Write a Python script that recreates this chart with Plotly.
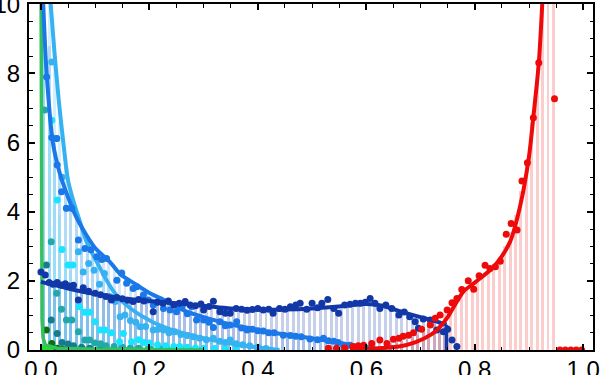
import plotly.graph_objects as go

# ---------------- data ----------------
BIN_W = 0.01

# histogram bar heights (bins of width 0.01, first bin starts at given value)
navy_bins_start = 0.0
navy_bars = [1.95, 1.9, 1.86, 1.82, 1.78, 1.74, 1.7, 1.66, 1.63, 1.6,
             1.58, 1.55, 1.52, 1.5, 1.48, 1.46, 1.44, 1.43, 1.42, 1.4,
             1.38, 1.37, 1.35, 1.34, 1.33, 1.32, 1.3, 1.29, 1.28, 1.27,
             1.25, 1.24, 1.22, 1.21, 1.2, 1.2, 1.19, 1.18, 1.18, 1.17,
             1.17, 1.16, 1.16, 1.17, 1.17, 1.16, 1.17, 1.18, 1.18, 1.19,
             1.2, 1.21, 1.22, 1.24, 1.25, 1.27, 1.28, 1.3, 1.31, 1.33,
             1.33, 1.32, 1.3, 1.27, 1.22, 1.17, 1.12, 1.07, 1.02, 0.97,
             0.93, 0.88, 0.84, 0.8, 0.76]

mid_bins_start = 0.0
mid_bars = [12, 8.8, 6.0, 5.1, 4.6, 4.2, 3.85, 3.55, 3.3, 3.05,
            2.85, 2.7, 2.55, 2.42, 2.3, 2.15, 2.02, 1.92, 1.8, 1.7,
            1.62, 1.55, 1.48, 1.4, 1.33, 1.26, 1.19, 1.13, 1.07, 1.02,
            0.97, 0.92, 0.87, 0.82, 0.78, 0.74, 0.71, 0.68, 0.65, 0.62,
            0.59, 0.56, 0.53, 0.51, 0.49, 0.46, 0.44, 0.41, 0.39, 0.37,
            0.35, 0.32, 0.3, 0.27, 0.24, 0.21, 0.18, 0.15, 0.12, 0.09,
            0.06, 0.03]

light_bins_start = 0.0
light_bars = [14, 11, 8.6, 6.6, 5.3, 4.6, 4.0, 3.55, 3.1, 2.75,
              2.45, 2.15, 1.9, 1.68, 1.5, 1.35, 1.22, 1.1, 0.99, 0.9,
              0.82, 0.75, 0.68, 0.62, 0.57, 0.52, 0.47, 0.43, 0.39, 0.35,
              0.32, 0.29, 0.26, 0.23, 0.2, 0.18, 0.16, 0.13, 0.11, 0.09,
              0.07, 0.05, 0.03, 0.02]

cyan_bins_start = 0.0
cyan_bars = [12, 7, 5.2, 3.9, 2.8, 2.3, 1.6, 1.2, 1.05, 0.85,
             0.7, 0.58, 0.5, 0.42, 0.34, 0.3, 0.25, 0.21, 0.18, 0.15,
             0.13, 0.11, 0.1, 0.08, 0.07, 0.06, 0.05, 0.04, 0.03, 0.02]

red_bins_start = 0.55
red_bars = [0.02, 0.03, 0.04, 0.05, 0.06, 0.08, 0.1, 0.12, 0.15, 0.18,
            0.22, 0.26, 0.31, 0.37, 0.44, 0.52, 0.62, 0.74, 0.88, 1.05,
            1.25, 1.45, 1.65, 1.8, 1.92, 2.05, 2.2, 2.35, 2.5, 2.7,
            3.0, 3.4, 3.9, 4.6, 5.5, 6.6, 8.2, 12, 12, 12]

# fitted curves
green_curve_x = [0.0, 0.0004, 0.0008, 0.0012, 0.0016, 0.002, 0.004, 0.008, 0.03, 0.1, 0.2, 0.3]
green_curve_y = [12, 9, 6, 3.5, 1.8, 0.9, 0.35, 0.15, 0.05, 0.02, 0.01, 0.0]

light_curve_x = [0.017, 0.025, 0.033, 0.042, 0.05, 0.06, 0.072, 0.085, 0.103, 0.12,
                 0.133, 0.15, 0.183, 0.232, 0.3, 0.386, 0.44]
light_curve_y = [10.2, 8.6, 7.2, 5.9, 4.9, 4.3, 3.71, 3.1, 2.55, 2.05,
                 1.72, 1.4, 1.01, 0.63, 0.34, 0.1, 0.0]

mid_curve_x = [0.0037, 0.0105, 0.022, 0.035, 0.047, 0.065, 0.084, 0.1, 0.127, 0.146,
               0.17, 0.2, 0.22, 0.269, 0.318, 0.354, 0.386, 0.416, 0.478, 0.539,
               0.589, 0.62]
mid_curve_y = [10.2, 8.0, 6.0, 5.1, 4.55, 3.85, 3.32, 2.95, 2.55, 2.2,
               1.95, 1.65, 1.5, 1.11, 0.87, 0.72, 0.63, 0.53, 0.39, 0.24,
               0.1, 0.02]

navy_curve_x = [0.0, 0.05, 0.1, 0.15, 0.2, 0.25, 0.3, 0.35, 0.4, 0.45,
                0.5, 0.55, 0.6, 0.63, 0.66, 0.7, 0.73, 0.748]
navy_curve_y = [1.97, 1.78, 1.62, 1.5, 1.42, 1.35, 1.28, 1.2, 1.17, 1.17,
                1.2, 1.26, 1.33, 1.28, 1.13, 0.95, 0.82, 0.73]

red_curve_x = [0.57, 0.6, 0.63, 0.66, 0.69, 0.72, 0.736, 0.75, 0.765, 0.779,
               0.8, 0.835, 0.865, 0.884, 0.9, 0.908, 0.918, 0.925]
red_curve_y = [0.0, 0.03, 0.06, 0.1, 0.22, 0.45, 0.67, 0.95, 1.35, 1.69,
               1.95, 2.41, 3.13, 4.19, 5.6, 6.74, 8.29, 10.2]

# data points
navy_pts_x = [0.0, 0.008, 0.015, 0.022, 0.03, 0.038, 0.045, 0.052, 0.06, 0.069,
              0.078, 0.088, 0.1, 0.11, 0.12, 0.13, 0.14, 0.15, 0.16, 0.17,
              0.18, 0.19, 0.207, 0.215, 0.225, 0.235, 0.245, 0.255, 0.266, 0.275,
              0.285, 0.295, 0.3, 0.31, 0.318, 0.33, 0.34, 0.349, 0.36, 0.37,
              0.38, 0.39, 0.4, 0.41, 0.42, 0.428, 0.44, 0.45, 0.46, 0.47,
              0.478, 0.49, 0.5, 0.51, 0.518, 0.529, 0.54, 0.549, 0.56, 0.57,
              0.58, 0.589, 0.598, 0.607, 0.616, 0.625, 0.636, 0.647, 0.66, 0.67,
              0.68, 0.69, 0.696, 0.705, 0.718, 0.73, 0.742, 0.75, 0.758, 0.767]
navy_pts_y = [2.26, 2.17, 1.95, 1.9, 1.95, 1.88, 1.92, 1.85, 1.87, 1.45,
              1.8, 1.7, 1.64, 1.6, 1.55, 1.45, 1.52, 1.48, 1.44, 1.4,
              1.46, 1.42, 1.11, 1.38, 1.35, 1.42, 1.3, 1.35, 1.4, 1.3,
              1.28, 1.33, 1.16, 1.26, 1.41, 1.11, 1.06, 1.06, 1.2, 1.18,
              1.15, 1.17, 1.2, 1.16, 1.18, 1.06, 1.2, 1.18, 1.25, 1.3,
              1.35, 1.18, 1.35, 1.22, 1.35, 1.46, 1.2, 1.06, 1.3, 1.32,
              1.35, 1.35, 1.38, 1.49, 1.35, 1.2, 1.3, 1.2, 1.01, 1.1,
              0.96, 0.82, 0.63, 0.9, 0.87, 0.58, 0.53, 0.6, 0.29, 0.1]

mid_pts_x = [0.0105, 0.02, 0.029, 0.03, 0.038, 0.047, 0.057, 0.069, 0.081, 0.092,
             0.103, 0.112, 0.121, 0.14, 0.149, 0.158, 0.17, 0.177, 0.189, 0.198,
             0.207, 0.216, 0.226, 0.238, 0.25, 0.26, 0.27, 0.278, 0.287, 0.3,
             0.31, 0.318, 0.33, 0.34, 0.349, 0.361, 0.37, 0.38, 0.39, 0.4,
             0.41, 0.42, 0.43, 0.447, 0.46, 0.47, 0.48, 0.496, 0.51, 0.521,
             0.53, 0.54, 0.548, 0.558, 0.57, 0.585, 0.6, 0.61]
mid_pts_y = [7.9, 6.15, 6.12, 5.35, 4.58, 4.1, 4.1, 3.18, 2.94, 2.9,
             2.7, 2.62, 2.65, 2.02, 2.23, 1.93, 1.78, 1.83, 1.59, 1.45,
             1.3, 1.4, 1.2, 1.16, 1.11, 1.25, 1.05, 1.25, 0.87, 0.87,
             0.8, 0.65, 0.82, 0.7, 0.72, 0.82, 0.64, 0.58, 0.6, 0.56,
             0.55, 0.5, 0.5, 0.43, 0.42, 0.4, 0.38, 0.32, 0.3, 0.34,
             0.27, 0.25, 0.22, 0.14, 0.14, 0.1, 0.06, 0.04]

light_pts_x = [0.02, 0.029, 0.039, 0.047, 0.057, 0.069, 0.078, 0.088, 0.098, 0.108,
               0.117, 0.127, 0.137, 0.146, 0.155, 0.165, 0.175, 0.183, 0.193, 0.207,
               0.216, 0.226, 0.236, 0.247, 0.258, 0.27, 0.281, 0.293, 0.305, 0.318,
               0.33, 0.34, 0.349, 0.36, 0.372, 0.385, 0.4, 0.415]
light_pts_y = [8.33, 6.12, 5.0, 4.1, 4.1, 2.84, 2.26, 2.5, 2.31, 1.9,
               2.21, 1.55, 1.4, 0.96, 1.01, 0.85, 0.8, 0.67, 0.68, 0.58,
               0.6, 0.58, 0.5, 0.53, 0.45, 0.42, 0.38, 0.34, 0.3, 0.34,
               0.25, 0.22, 0.29, 0.18, 0.15, 0.12, 0.08, 0.04]

cyan_pts_x = [0.02, 0.03, 0.039, 0.05, 0.059, 0.071, 0.081, 0.09, 0.1, 0.11,
              0.118, 0.13, 0.145, 0.152, 0.167, 0.18, 0.19, 0.2, 0.215, 0.23,
              0.245, 0.256, 0.27, 0.285, 0.3, 0.32, 0.34, 0.36]
cyan_pts_y = [6.65, 4.34, 2.91, 2.46, 2.46, 1.25, 1.09, 1.09, 0.82, 0.58,
              0.58, 0.5, 0.24, 0.48, 0.24, 0.3, 0.22, 0.2, 0.15, 0.12,
              0.1, 0.1, 0.08, 0.06, 0.05, 0.04, 0.03, 0.02]

teal_pts_x = [0.007, 0.019, 0.029, 0.038, 0.047, 0.057, 0.069, 0.081, 0.09, 0.1,
              0.11, 0.12, 0.135, 0.15, 0.165, 0.18, 0.2, 0.22]
teal_pts_y = [6.94, 3.13, 1.64, 1.18, 0.87, 0.87, 0.53, 0.29, 0.29, 0.2,
              0.18, 0.12, 0.1, 0.08, 0.06, 0.05, 0.04, 0.03]

dteal_pts_x = [0.01, 0.019, 0.03, 0.039, 0.05, 0.06, 0.075, 0.09, 0.11]
dteal_pts_y = [2.46, 0.87, 0.48, 0.22, 0.17, 0.12, 0.08, 0.05, 0.03]

dgreen_pts_x = [0.01, 0.02, 0.03, 0.04]
dgreen_pts_y = [0.58, 0.19, 0.05, 0.02]

green_pts_x = [0.005, 0.015, 0.025, 0.035, 0.045, 0.055, 0.065, 0.075, 0.085, 0.095,
               0.105, 0.115, 0.125, 0.135, 0.145, 0.155, 0.165, 0.175, 0.185, 0.195,
               0.205, 0.215, 0.225, 0.235, 0.245, 0.255, 0.265, 0.275, 0.285, 0.295]
green_pts_y = [0.05, 0.04, 0.03, 0.03, 0.02, 0.02, 0.02, 0.02, 0.02, 0.01,
               0.01, 0.01, 0.01, 0.01, 0.01, 0.01, 0.01, 0.01, 0.01, 0.01,
               0.01, 0.01, 0.01, 0.01, 0.01, 0.01, 0.01, 0.0, 0.0, 0.0]

red_pts_x = [0.53, 0.545, 0.56, 0.575, 0.585, 0.595, 0.61, 0.625, 0.638, 0.65,
             0.66, 0.668, 0.678, 0.687, 0.702, 0.718, 0.727, 0.736, 0.749, 0.758,
             0.767, 0.776, 0.788, 0.798, 0.808, 0.819, 0.828, 0.838, 0.847, 0.858,
             0.867, 0.878, 0.887, 0.897, 0.908, 0.918, 0.947, 0.957, 0.967, 0.977,
             0.987, 0.997]
red_pts_y = [0.05, 0.05, 0.06, 0.1, 0.12, 0.14, 0.19, 0.29, 0.19, 0.31,
             0.34, 0.4, 0.43, 0.5, 0.6, 0.72, 0.92, 1.01, 1.16, 1.37,
             1.49, 1.75, 2.0, 1.76, 2.15, 2.45, 2.36, 2.41, 2.57, 3.35,
             3.66, 3.47, 4.89, 5.42, 6.72, 8.31, 7.27, 0.0, 0.0, 0.0,
             0.0, 0.0]

x_ticks = [0.0, 0.2, 0.4, 0.6, 0.8, 1.0]
x_labels = ["0.0", "0.2", "0.4", "0.6", "0.8", "1.0"]
y_ticks = [0, 2, 4, 6, 8, 10]
y_labels = ["0", "2", "4", "6", "8", "10"]

# colours
NAVY = "#1238a8"
MID = "#1a78e8"
LIGHT = "#36b2f2"
CYAN = "#18e4ff"
TEAL = "#22a8aa"
DTEAL = "#167c8c"
DGREEN = "#0b700b"
GREEN_PTS = "#22dd22"
GREEN_LINE = "#35c060"
RED = "#ee0a0a"

fig = go.Figure()


def add_bars(start, heights, color, opacity):
    xs = [start + BIN_W * (i + 0.5) for i in range(len(heights))]
    fig.add_trace(go.Bar(x=xs, y=heights, width=BIN_W * 0.55,
                         marker=dict(color=color, line=dict(width=0)),
                         opacity=opacity, showlegend=False, hoverinfo="skip"))


add_bars(navy_bins_start, navy_bars, NAVY, 0.23)
add_bars(mid_bins_start, mid_bars, MID, 0.18)
add_bars(light_bins_start, light_bars, LIGHT, 0.2)
add_bars(cyan_bins_start, cyan_bars, CYAN, 0.15)
add_bars(red_bins_start, red_bars, RED, 0.2)


def add_pts(xs, ys, color, size=7):
    fig.add_trace(go.Scatter(x=xs, y=ys, mode="markers",
                             marker=dict(color=color, size=size, line=dict(width=0)),
                             showlegend=False))


def add_curve(xs, ys, color, width=4, shape="spline"):
    fig.add_trace(go.Scatter(x=xs, y=ys, mode="lines",
                             line=dict(color=color, width=width, shape=shape, smoothing=0.8),
                             showlegend=False))


add_pts(green_pts_x, green_pts_y, GREEN_PTS, 6)
add_pts(dgreen_pts_x, dgreen_pts_y, DGREEN)
add_pts(dteal_pts_x, dteal_pts_y, DTEAL)
add_pts(teal_pts_x, teal_pts_y, TEAL)
add_pts(cyan_pts_x, cyan_pts_y, CYAN)
add_curve(green_curve_x, green_curve_y, GREEN_LINE, 3.5, "linear")
add_pts(light_pts_x, light_pts_y, LIGHT)
add_curve(light_curve_x, light_curve_y, LIGHT)
add_pts(mid_pts_x, mid_pts_y, MID)
add_curve(mid_curve_x, mid_curve_y, MID)
add_pts(navy_pts_x, navy_pts_y, NAVY)
add_curve(navy_curve_x, navy_curve_y, NAVY)
add_curve([navy_curve_x[-1], navy_curve_x[-1]], [navy_curve_y[-1], 0], NAVY, 3.5, "linear")
add_pts(red_pts_x, red_pts_y, RED)
add_curve(red_curve_x, red_curve_y, RED)

FONT = dict(family="Liberation Sans, Arial, sans-serif", size=24, color="black")
axis_common = dict(showline=True, linecolor="black", linewidth=2, mirror="ticks",
                   ticks="inside", tickcolor="black", tickwidth=1.5, ticklen=6,
                   showgrid=False, zeroline=False, automargin=False, tickfont=FONT,
                   ticklabeloverflow="allow")

fig.update_layout(
    width=600, height=375,
    margin=dict(l=29, r=7, t=4, b=25, autoexpand=False),
    paper_bgcolor="white", plot_bgcolor="white",
    barmode="overlay", bargap=0,
    xaxis=dict(range=[-0.022, 1.018], tickvals=x_ticks, ticktext=x_labels,
               minor=dict(dtick=0.05, tick0=0, ticks="inside", ticklen=3.5,
                          tickcolor="black", tickwidth=1.2),
               ticklabelstandoff=-3,
               **axis_common),
    yaxis=dict(range=[0, 10.01], tickvals=y_ticks, ticktext=y_labels,
               minor=dict(dtick=0.5, tick0=0, ticks="inside", ticklen=3.5,
                          tickcolor="black", tickwidth=1.2),
               ticklabelstandoff=2,
               **axis_common),
)

fig.write_html("out.html")
